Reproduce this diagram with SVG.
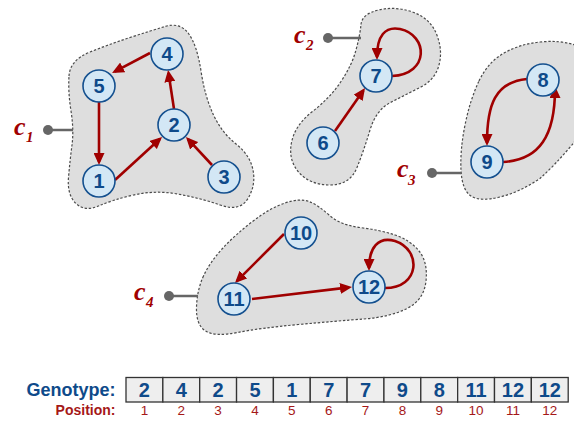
<svg xmlns="http://www.w3.org/2000/svg" width="574" height="422" viewBox="0 0 574 422">
<style>
.blob{fill:#dedede;stroke:#4a4a4a;stroke-width:1.2;stroke-dasharray:2.4,1.8}
.lead{stroke:#666;stroke-width:2.5}
.dot{fill:#666}
.clab{font-family:"Liberation Serif",serif;font-weight:bold;font-style:italic;fill:#a00000}
.node circle{fill:#d3e7f5;stroke:#14508f;stroke-width:1.6}
.node text{font-family:"Liberation Sans",Arial,sans-serif;font-weight:bold;font-size:20px;fill:#0e4a8a;text-anchor:middle}
.edge{fill:none;stroke:#a00000;stroke-width:2.6;marker-end:url(#ah)}
.cell{fill:#eeeeee;stroke:#333;stroke-width:1.3}
.gv{font-family:"Liberation Sans",Arial,sans-serif;font-weight:bold;font-size:20px;fill:#0e4a8a;text-anchor:middle}
.pv{font-family:"Liberation Sans",Arial,sans-serif;font-size:13.5px;fill:#a51818;text-anchor:middle}
</style>
<defs>
<marker id="ah" markerUnits="userSpaceOnUse" markerWidth="12" markerHeight="11" refX="9" refY="5.5" orient="auto">
<path d="M0,0 L12,5.5 L0,11 z" fill="#a00000"/>
</marker>
</defs>

<g id="clusters">
<g id="c1">
<path class="blob" d="M69,76 Q70,60 90,52 Q110,44 130,37.5 Q150,31 165,26.5 Q180,22 188.5,33.5 Q197,45 201,71 Q205,97 213.5,115 Q222,133 236,144 Q250,155 253,170 Q256,185 248,198.5 Q240,212 220,205 Q200,198 177.5,194 Q155,190 133.5,195 Q112,200 98.5,206 Q85,212 76,203.5 Q67,195 68.5,177.5 Q70,160 72,145 Q74,130 71,111 Q68,92 69,76 Z"/>
<line class="lead" x1="48" y1="130" x2="73" y2="130"/>
<circle class="dot" cx="48" cy="130" r="5"/>
<text class="clab" x="14" y="135" font-size="26">c</text>
<text class="clab" x="26" y="142" font-size="15">1</text>
</g>
<g id="c2">
<path class="blob" d="M361,24.5 Q362,14 378.5,10 Q395,6 412.5,12 Q430,18 436.5,34 Q443,50 439,65 Q435,80 420,87.5 Q405,95 390.5,102.5 Q376,110 370,130 Q364,150 357,167.5 Q350,185 330,185 Q310,185 299,172.5 Q288,160 291.5,142.5 Q295,125 312.5,111.5 Q330,98 341,81.5 Q352,65 356,50 Q360,35 361,24.5 Z"/>
<line class="lead" x1="328" y1="38" x2="361" y2="38"/>
<circle class="dot" cx="328" cy="38" r="5"/>
<text class="clab" x="294" y="43" font-size="26">c</text>
<text class="clab" x="306" y="50" font-size="15">2</text>
</g>
<g id="c3">
<path class="blob" d="M479,81 Q488,62 504,53 Q520,44 540,42 Q560,40 575,45 Q590,50 590,90 Q588,128 571,146 Q555,165 540,178.5 Q520,192 500,197 Q480,202 471,196 Q462,190 461,170 Q460,150 465,125 Q470,100 479,81 Z"/>
<line class="lead" x1="432" y1="173" x2="461" y2="173"/>
<circle class="dot" cx="432" cy="173" r="5"/>
<text class="clab" x="397" y="177" font-size="26">c</text>
<text class="clab" x="408" y="185" font-size="15">3</text>
</g>
<g id="c4">
<path class="blob" d="M203.5,276 Q197,290 196.5,307.5 Q196,325 205.5,331 Q215,337 237.5,332.5 Q260,328 298.5,324.5 Q337,321 363.5,319 Q390,317 407,308.5 Q424,300 426,281 Q428,262 419,251 Q410,240 395,235 Q380,230 360,227.5 Q340,225 329,215 Q318,205 309,201.5 Q300,198 285,203 Q270,208 252.5,221.5 Q235,235 222.5,248.5 Q210,262 203.5,276 Z"/>
<line class="lead" x1="169" y1="296" x2="198" y2="296"/>
<circle class="dot" cx="169" cy="296" r="5"/>
<text class="clab" x="134" y="300" font-size="26">c</text>
<text class="clab" x="146" y="307" font-size="15">4</text>
</g>
</g>

<g id="connectors">
<path class="edge" d="M150,53 L114.7,71.6"/>
<path class="edge" d="M99,102 L99,162"/>
<path class="edge" d="M115,180 L159.8,139"/>
<path class="edge" d="M212,165 L188,139.2"/>
<path class="edge" d="M174,109 L168.5,73"/>
<path class="edge" d="M335,131 L363.3,90.5"/>
<path class="edge" d="M392,76 C430,74 428,35 400,29 C385,26 377,36 377,57"/>
<path class="edge" d="M527,79 C495,82 487,105 487,143"/>
<path class="edge" d="M503,162 C540,160 555,135 555,89"/>
<path class="edge" d="M284,234 L237.1,280.9"/>
<path class="edge" d="M252,299 L349,287.4"/>
<path class="edge" d="M385,288 C420,288 422,250 395,241 C378,236 369,248 369,268"/>
</g>

<g id="n1" class="node"><circle cx="99" cy="181" r="16"/><text x="99" y="188">1</text></g>
<g id="n2" class="node"><circle cx="174" cy="125" r="16"/><text x="174" y="132">2</text></g>
<g id="n3" class="node"><circle cx="224" cy="177" r="16"/><text x="224" y="184">3</text></g>
<g id="n4" class="node"><circle cx="167" cy="54" r="16"/><text x="167" y="61">4</text></g>
<g id="n5" class="node"><circle cx="99" cy="86" r="16"/><text x="99" y="93">5</text></g>
<g id="n6" class="node"><circle cx="323" cy="143" r="16"/><text x="323" y="150">6</text></g>
<g id="n7" class="node"><circle cx="376" cy="76" r="16"/><text x="376" y="83">7</text></g>
<g id="n8" class="node"><circle cx="543" cy="80" r="16"/><text x="543" y="87">8</text></g>
<g id="n9" class="node"><circle cx="487" cy="162" r="16"/><text x="487" y="169">9</text></g>
<g id="n10" class="node"><circle cx="301" cy="233" r="16"/><text x="301" y="240">10</text></g>
<g id="n11" class="node"><circle cx="234" cy="299" r="16"/><text x="234" y="306">11</text></g>
<g id="n12" class="node"><circle cx="369" cy="287" r="16"/><text x="369" y="294">12</text></g>

<g id="genotype">
<text x="115.5" y="396" font-family="Liberation Sans, Arial, sans-serif" font-weight="bold" font-size="18" fill="#0e4a8a" text-anchor="end">Genotype:</text>
<text x="115.5" y="415" font-family="Liberation Sans, Arial, sans-serif" font-weight="bold" font-size="14" fill="#a51818" text-anchor="end">Position:</text>
<rect class="cell" x="126" y="377.5" width="36.85" height="24.5"/>
<rect class="cell" x="162.85" y="377.5" width="36.85" height="24.5"/>
<rect class="cell" x="199.7" y="377.5" width="36.85" height="24.5"/>
<rect class="cell" x="236.55" y="377.5" width="36.85" height="24.5"/>
<rect class="cell" x="273.4" y="377.5" width="36.85" height="24.5"/>
<rect class="cell" x="310.25" y="377.5" width="36.85" height="24.5"/>
<rect class="cell" x="347.1" y="377.5" width="36.85" height="24.5"/>
<rect class="cell" x="383.95" y="377.5" width="36.85" height="24.5"/>
<rect class="cell" x="420.8" y="377.5" width="36.85" height="24.5"/>
<rect class="cell" x="457.65" y="377.5" width="36.85" height="24.5"/>
<rect class="cell" x="494.5" y="377.5" width="36.85" height="24.5"/>
<rect class="cell" x="531.35" y="377.5" width="36.85" height="24.5"/>
<text class="gv" x="144.4" y="397">2</text>
<text class="gv" x="181.3" y="397">4</text>
<text class="gv" x="218.1" y="397">2</text>
<text class="gv" x="255" y="397">5</text>
<text class="gv" x="291.8" y="397">1</text>
<text class="gv" x="328.7" y="397">7</text>
<text class="gv" x="365.5" y="397">7</text>
<text class="gv" x="402.4" y="397">9</text>
<text class="gv" x="439.2" y="397">8</text>
<text class="gv" x="476.1" y="397">11</text>
<text class="gv" x="512.9" y="397">12</text>
<text class="gv" x="549.8" y="397">12</text>
<text class="pv" x="144.4" y="415">1</text>
<text class="pv" x="181.3" y="415">2</text>
<text class="pv" x="218.1" y="415">3</text>
<text class="pv" x="255" y="415">4</text>
<text class="pv" x="291.8" y="415">5</text>
<text class="pv" x="328.7" y="415">6</text>
<text class="pv" x="365.5" y="415">7</text>
<text class="pv" x="402.4" y="415">8</text>
<text class="pv" x="439.2" y="415">9</text>
<text class="pv" x="476.1" y="415">10</text>
<text class="pv" x="512.9" y="415">11</text>
<text class="pv" x="549.8" y="415">12</text>
</g>
</svg>
